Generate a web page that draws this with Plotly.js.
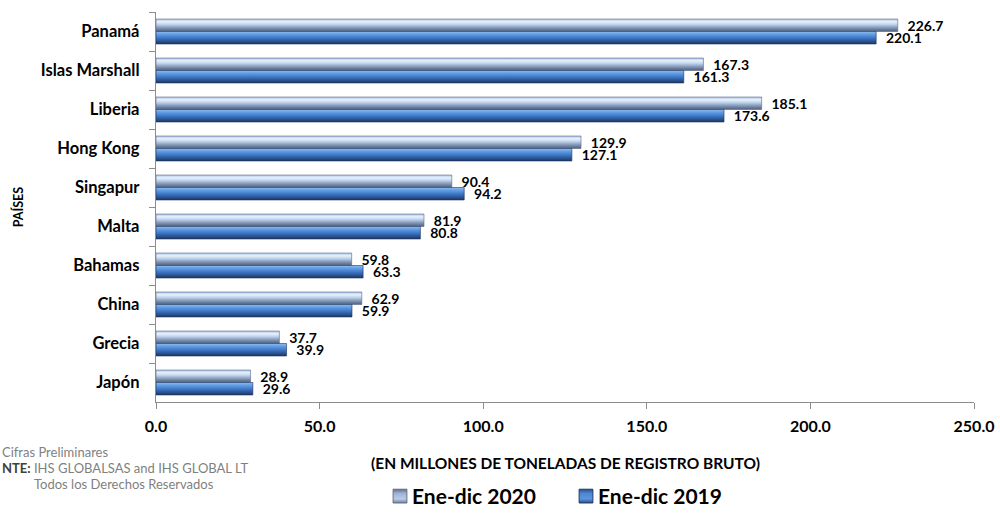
<!DOCTYPE html>
<html>
<head>
<meta charset="utf-8">
<script src="https://cdn.plot.ly/plotly-3.0.1.min.js"></script>
<style>html,body{margin:0;padding:0;background:#fff;}#chart{width:1000px;height:515px;}</style>
</head>
<body>
<div id="chart"></div>
<script>
const countries = ["Panamá","Islas Marshall","Liberia","Hong Kong","Singapur","Malta","Bahamas","China","Grecia","Japón"];
const values2020 = [226.7,167.3,185.1,129.9,90.4,81.9,59.8,62.9,37.7,28.9];
const values2019 = [220.1,161.3,173.6,127.1,94.2,80.8,63.3,59.9,39.9,29.6];
const xTickVals = [0,50,100,150,200,250];
const xTickText = ["0.0","50.0","100.0","150.0","200.0","250.0"];
const seriesNames = ["Ene-dic 2020","Ene-dic 2019"];

const FONT = "Lato, 'Open Sans', sans-serif";

const traces = [
  {type:'bar', orientation:'h', name:seriesNames[0], y:countries, x:values2020,
   marker:{color:'#9fb7dc', line:{color:'#5a6782', width:0.6}},
   texttemplate:'\u00a0\u00a0%{x:.1f}', textposition:'outside', cliponaxis:false, constraintext:'none',
   textfont:{family:FONT, size:14, color:'#000', weight:'bold'}, hoverinfo:'skip'},
  {type:'bar', orientation:'h', name:seriesNames[1], y:countries, x:values2019,
   marker:{color:'#3f78c6', line:{color:'#1d345c', width:0.6}},
   texttemplate:'\u00a0\u00a0%{x:.1f}', textposition:'outside', cliponaxis:false, constraintext:'none',
   textfont:{family:FONT, size:14, color:'#000', weight:'bold'}, hoverinfo:'skip'}
];

const layout = {
  width:1000, height:515,
  margin:{l:156, r:26, t:12, b:113},
  paper_bgcolor:'#fff', plot_bgcolor:'#fff',
  barmode:'group', bargap:0.36, bargroupgap:0,
  font:{family:FONT, color:'#000'},
  xaxis:{range:[0,250], tickvals:xTickVals, ticktext:xTickText, showgrid:false, zeroline:false,
         showline:true, linecolor:'#8c8c8c', linewidth:1.2, ticks:'outside', ticklen:6, tickcolor:'#8c8c8c',
         ticklabelstandoff:4,
         tickfont:{family:FONT, size:16, weight:'bold', color:'#000'}, fixedrange:true},
  yaxis:{autorange:'reversed', type:'category', showgrid:false, zeroline:false,
         showline:true, linecolor:'#8c8c8c', linewidth:1.2, ticks:'outside', ticklen:6, tickcolor:'#8c8c8c',
         tickson:'boundaries', ticklabelstandoff:12,
         tickfont:{family:FONT, size:16.5, weight:'bold', color:'#000'}, fixedrange:true},
  showlegend:true,
  legend:{orientation:'h', xref:'container', yref:'container', x:0.372, y:0.036, xanchor:'left', yanchor:'middle',
          font:{family:FONT, size:21, weight:'bold', color:'#000'}, itemwidth:30, entrywidth:141,
          traceorder:'normal', tracegroupgap:0},
  annotations:[
    {xref:'paper', yref:'paper', x:0.5, y:-0.157, text:'(EN MILLONES DE TONELADAS DE REGISTRO BRUTO)', showarrow:false,
     xanchor:'center', yanchor:'middle', font:{family:FONT, size:15.5, weight:'bold', color:'#000'}},
    {xref:'paper', yref:'paper', x:(18-156)/820, y:(402-207)/390, text:'PAÍSES', textangle:-90, showarrow:false,
     xanchor:'center', yanchor:'middle', font:{family:FONT, size:12.5, weight:'bold', color:'#000'}},
    {xref:'paper', yref:'paper', x:(0-156)/820, y:(402-452)/390, text:'Cifras Preliminares', showarrow:false,
     xanchor:'left', yanchor:'middle', font:{family:FONT, size:13, color:'#7f7f7f'}},
    {xref:'paper', yref:'paper', x:(0-156)/820, y:(402-468)/390, text:'<b style="color:#404040">NTE:</b> IHS GLOBALSAS and IHS GLOBAL LT', showarrow:false,
     xanchor:'left', yanchor:'middle', font:{family:FONT, size:13, color:'#7f7f7f'}},
    {xref:'paper', yref:'paper', x:(32-156)/820, y:(402-484)/390, text:'Todos los Derechos Reservados', showarrow:false,
     xanchor:'left', yanchor:'middle', font:{family:FONT, size:13, color:'#7f7f7f'}}
  ]
};

function applyGradients(gd){
  const svg = gd.querySelector('svg.main-svg');
  if(!svg) return;
  const ns = 'http://www.w3.org/2000/svg';
  let defs = svg.querySelector('defs');
  if(!defs){ defs = document.createElementNS(ns,'defs'); svg.insertBefore(defs, svg.firstChild); }
  const grads = {
    g2020:[[0,'#a6c3ec'],[0.22,'#e9f2fc'],[0.45,'#bcd0ea'],[0.72,'#8094b4'],[1,'#4d5e7d']],
    g2019:[[0,'#8fbcf0'],[0.25,'#5e9ae2'],[0.55,'#3b73c2'],[1,'#1b3663']],
    l2020:[[0,'#5d6e8c'],[0.3,'#9fb3d2'],[0.7,'#b9cbe6'],[1,'#6f82a3']],
    l2019:[[0,'#2a4f88'],[0.3,'#4d86d2'],[0.7,'#5c95dd'],[1,'#2a4f88']]
  };
  Object.keys(grads).forEach(id=>{
    const lg = document.createElementNS(ns,'linearGradient');
    lg.setAttribute('id',id); lg.setAttribute('x1','0'); lg.setAttribute('y1','0'); lg.setAttribute('x2','0'); lg.setAttribute('y2','1');
    grads[id].forEach(s=>{
      const st = document.createElementNS(ns,'stop');
      st.setAttribute('offset', s[0]); st.setAttribute('stop-color', s[1]);
      lg.appendChild(st);
    });
    defs.appendChild(lg);
  });
  const ids = ['g2020','g2019'];
  const lids = ['l2020','l2019'];
  gd.querySelectorAll('.barlayer .trace.bars').forEach((t,i)=>{
    t.querySelectorAll('path').forEach(p=>{ p.style.fill = 'url(#'+ids[i]+')'; });
  });
  gd.querySelectorAll('.legend .traces').forEach((t,i)=>{
    t.querySelectorAll('.legendpoints path').forEach(p=>{
      p.style.fill = 'url(#'+lids[i]+')';
      p.style.stroke = i === 0 ? '#5a6782' : '#1d345c';
      p.style.strokeWidth = '0.8px';
      p.setAttribute('transform','translate(28,0) scale(1.15)');
    });
  });
}

Plotly.newPlot('chart', traces, layout, {staticPlot:true, displayModeBar:false}).then(applyGradients);
</script>
</body>
</html>
